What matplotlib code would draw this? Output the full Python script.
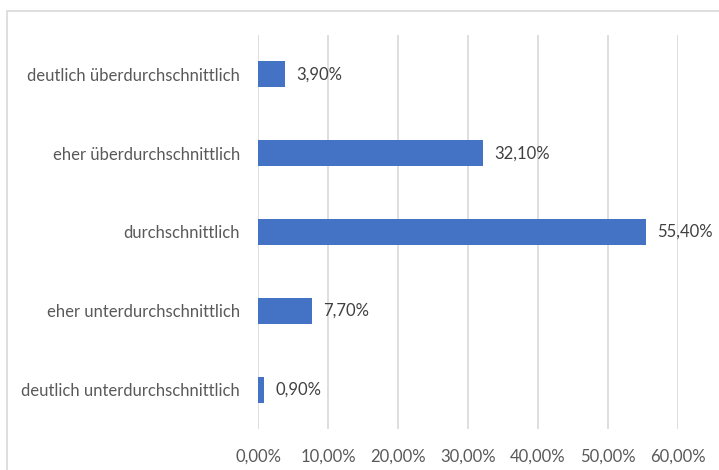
import matplotlib.pyplot as plt
from matplotlib.patches import Rectangle

categories = ["deutlich unterdurchschnittlich",
              "eher unterdurchschnittlich",
              "durchschnittlich",
              "eher überdurchschnittlich",
              "deutlich überdurchschnittlich"]
values = [0.9, 7.7, 55.4, 32.1, 3.9]
xticks = [0, 10, 20, 30, 40, 50, 60]

plt.rcParams["font.family"] = ["Lato", "DejaVu Sans"]
text_color = "#595959"
grid_color = "#D9D9D9"

fig = plt.figure(figsize=(7.19, 4.70), dpi=100)
W, H = 719, 470
ax = fig.add_axes([258 / W, 1 - 429 / H, (678 - 258) / W, (429 - 35) / H])

# chart frame (cut off on the right and bottom)
fig.patches.append(Rectangle((7 / W, -0.1), 1.2, 1 - 11 / H + 0.1,
                             transform=fig.transFigure, fill=False,
                             edgecolor="#D9D9D9", linewidth=1.2))

ypos = range(len(categories))
ax.barh(ypos, values, height=0.33, color="#4472C4", zorder=3)
for y, v in zip(ypos, values):
    ax.text(v + 1.6, y, f"{v:.2f}%".replace(".", ","), va="center",
            ha="left", fontsize=12, color="#404040")

ax.set_xlim(0, 60)
ax.set_ylim(-0.5, len(categories) - 0.5)
ax.set_xticks(xticks)
ax.set_xticklabels([f"{t:.2f}%".replace(".", ",") for t in xticks])
ax.set_yticks(list(ypos))
ax.set_yticklabels(categories)
ax.tick_params(length=0, labelsize=12, labelcolor=text_color)
ax.tick_params(axis="x", pad=14)
ax.tick_params(axis="y", pad=13)
ax.grid(axis="x", color=grid_color, linewidth=1.2, zorder=0)
for s in ax.spines.values():
    s.set_visible(False)

fig.savefig("out.png", dpi=100)
